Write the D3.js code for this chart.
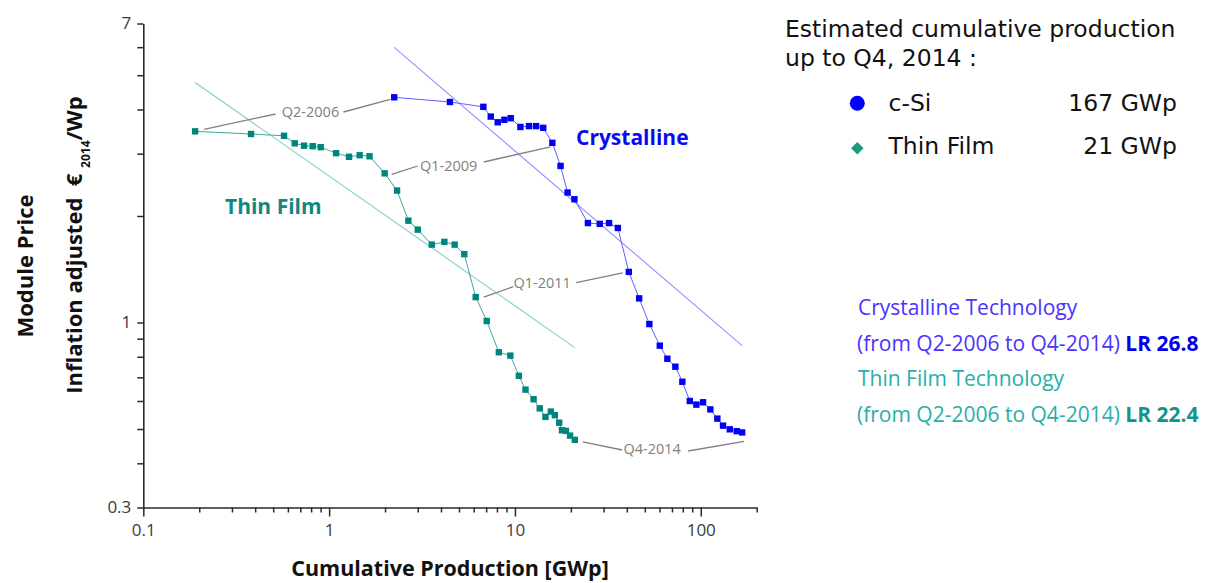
<!DOCTYPE html>
<html>
<head>
<meta charset="utf-8">
<script src="https://cdn.jsdelivr.net/npm/d3@7"></script>
<style>
  html, body { margin: 0; padding: 0; background: #fff; }
  svg { display: block; font-family: "Open Sans", "Noto Sans", sans-serif; }
</style>
</head>
<body>
<svg id="chart" width="1206" height="583"></svg>
<script>
// Quarterly module price vs. cumulative production, Q2-2006 .. Q4-2014
const quarters = [
  "Q2-2006","Q3-2006","Q4-2006",
  "Q1-2007","Q2-2007","Q3-2007","Q4-2007",
  "Q1-2008","Q2-2008","Q3-2008","Q4-2008",
  "Q1-2009","Q2-2009","Q3-2009","Q4-2009",
  "Q1-2010","Q2-2010","Q3-2010","Q4-2010",
  "Q1-2011","Q2-2011","Q3-2011","Q4-2011",
  "Q1-2012","Q2-2012","Q3-2012","Q4-2012",
  "Q1-2013","Q2-2013","Q3-2013","Q4-2013",
  "Q1-2014","Q2-2014","Q3-2014","Q4-2014"
];

// Crystalline silicon: cumulative production [GWp] and price [EUR2014/Wp]
const cSiProduction = [
  2.24, 4.47, 6.76, 7.41, 8.08, 8.77, 9.49,
  10.7, 11.9, 13.0, 14.2, 15.9, 17.6, 19.2, 20.9,
  24.7, 28.6, 32.1, 35.8, 41.0, 46.6, 52.9, 60.2,
  66.1, 73.0, 79.6, 87.3, 94.7, 102.9, 112.6, 122.8,
  131.8, 143.3, 156.2, 167
];
const cSiPrice = [
  4.33, 4.20, 4.07, 3.82, 3.68, 3.74, 3.78,
  3.57, 3.59, 3.59, 3.55, 3.22, 2.77, 2.33, 2.23,
  1.91, 1.90, 1.91, 1.85, 1.39, 1.17, 0.99, 0.86,
  0.79, 0.75, 0.68, 0.60, 0.586, 0.595, 0.568, 0.535,
  0.511, 0.499, 0.493, 0.489
];

// Thin film
const thinFilmProduction = [
  0.190, 0.380, 0.572, 0.653, 0.733, 0.816, 0.901,
  1.09, 1.28, 1.46, 1.65, 1.99, 2.32, 2.67, 3.00,
  3.57, 4.17, 4.74, 5.34, 6.15, 7.05, 8.19, 9.45,
  10.5, 11.4, 12.6, 13.6, 14.6, 15.6, 16.4, 17.3,
  17.9, 18.8, 19.8, 21
];
const thinFilmPrice = [
  3.47, 3.41, 3.37, 3.21, 3.16, 3.15, 3.13,
  3.01, 2.94, 2.97, 2.95, 2.64, 2.36, 1.94, 1.83,
  1.66, 1.69, 1.66, 1.56, 1.18, 1.01, 0.824, 0.806,
  0.707, 0.646, 0.607, 0.572, 0.541, 0.560, 0.547, 0.521,
  0.496, 0.494, 0.479, 0.466
];

// Learning-curve fits (end points)
const cSiFitProduction = [2.24, 167];
const cSiFitPrice = [5.99, 0.86];
const thinFilmFitProduction = [0.19, 21];
const thinFilmFitPrice = [4.77, 0.849];

// Axes
const xDomain = [0.1, 200];
const yDomain = [0.3, 7];
const xMajorTicks = [0.1, 1, 10, 100];
const xMinorTicks = [0.2,0.3,0.4,0.5,0.6,0.7,0.8,0.9, 2,3,4,5,6,7,8,9, 20,30,40,50,60,70,80,90, 200];
const yLabelTicks = [0.3, 1, 7];
const yMinorTicks = [0.4,0.5,0.6,0.7,0.8,0.9, 2,3,4,5,6];

// Quarters called out on the chart
const calloutQuarters = ["Q2-2006", "Q1-2009", "Q1-2011", "Q4-2014"];

// Legend / notes
const legendTitle = ["Estimated cumulative production", "up to Q4, 2014 :"];
const legendNames = ["c-Si", "Thin Film"];
const legendTotals = ["167 GWp", "21 GWp"];
const learningRates = ["LR 26.8", "LR 22.4"];

const BLUE = "#0000f5", BLUE_LINE = "#5d5dff", BLUE_FIT = "#9090ff";
const TEAL = "#00857d", TEAL_LINE = "#3fa79f", TEAL_FIT = "#84cfc8";
const GRAY = "#808080";

const svg = d3.select("#chart");
const x = d3.scaleLog().domain(xDomain).range([143.3, 756.7]);
const y = d3.scaleLog().domain(yDomain).range([507.5, 23.5]);
const fmt = d => String(d);

// ---- axes ----
const axisColor = "#2a2a2a";
const xAxisG = svg.append("g").attr("transform", `translate(0,${y.range()[0]})`);
xAxisG.call(d3.axisBottom(x).tickValues(xMinorTicks).tickSize(5).tickSizeOuter(0).tickFormat(""));
const xMajG = svg.append("g").attr("transform", `translate(0,${y.range()[0]})`);
xMajG.call(d3.axisBottom(x).tickValues(xMajorTicks).tickSize(9).tickSizeOuter(0).tickPadding(7).tickFormat(fmt));
xMajG.select(".domain").remove();

const yAxisG = svg.append("g").attr("transform", `translate(${x.range()[0]},0)`);
yAxisG.call(d3.axisLeft(y).tickValues(yMinorTicks).tickSize(6).tickSizeOuter(0).tickFormat(""));
const yMajG = svg.append("g").attr("transform", `translate(${x.range()[0]},0)`);
yMajG.call(d3.axisLeft(y).tickValues(yLabelTicks).tickSize(6).tickSizeOuter(0).tickPadding(6).tickFormat(fmt));
yMajG.select(".domain").remove();

svg.selectAll(".domain").attr("stroke", axisColor).attr("stroke-width", 1.6);
svg.selectAll(".tick line").attr("stroke", axisColor).attr("stroke-width", 1.5);
svg.selectAll(".tick text")
  .attr("fill", "#3a3a3a")
  .style("font-family", "'Open Sans', sans-serif")
  .style("font-size", "17px");

// ---- fit lines ----
function fitLine(xs, ys, color) {
  svg.append("line")
    .attr("x1", x(xs[0])).attr("y1", y(ys[0]))
    .attr("x2", x(xs[1])).attr("y2", y(ys[1]))
    .attr("stroke", color).attr("stroke-width", 1.1);
}
fitLine(cSiFitProduction, cSiFitPrice, BLUE_FIT);
fitLine(thinFilmFitProduction, thinFilmFitPrice, TEAL_FIT);

// ---- series ----
function series(xs, ys, lineColor, markColor) {
  const pts = xs.map((v, i) => [v, ys[i]]);
  svg.append("path")
    .datum(pts)
    .attr("fill", "none")
    .attr("stroke", lineColor)
    .attr("stroke-width", 1)
    .attr("d", d3.line().x(d => x(d[0])).y(d => y(d[1])));
  svg.append("g").selectAll("rect")
    .data(pts).join("rect")
    .attr("x", d => x(d[0]) - 3.2)
    .attr("y", d => y(d[1]) - 3.2)
    .attr("width", 6.4).attr("height", 6.4)
    .attr("fill", markColor);
}
series(thinFilmProduction, thinFilmPrice, TEAL_LINE, TEAL);
series(cSiProduction, cSiPrice, BLUE_LINE, BLUE);

// ---- quarter callouts ----
// label centre and connector offsets for each callout
const calloutLayout = [
  { cx: 310.5, cy: 112, l: [-35, 2], r: [33, 0], tOff: [9, -2], bOff: [-4, 2] },
  { cx: 448.7, cy: 166, l: [-31, 0], r: [35, -4], tOff: [7, 1], bOff: [-2, 4] },
  { cx: 542.2, cy: 282.7, l: [-29, 4], r: [34, 0], tOff: [8, 0], bOff: [-6, 1] },
  { cx: 652.2, cy: 449, l: [-30, 1], r: [36, 2], tOff: [8, 2], bOff: [2, 9] }
];
calloutQuarters.forEach((q, k) => {
  const i = quarters.indexOf(q);
  const L = calloutLayout[k];
  const tx = x(thinFilmProduction[i]) + L.tOff[0], ty = y(thinFilmPrice[i]) + L.tOff[1];
  const bx = x(cSiProduction[i]) + L.bOff[0], by = y(cSiPrice[i]) + L.bOff[1];
  svg.append("line")
    .attr("x1", tx).attr("y1", ty)
    .attr("x2", L.cx + L.l[0]).attr("y2", L.cy + L.l[1])
    .attr("stroke", GRAY).attr("stroke-width", 1.3);
  svg.append("line")
    .attr("x1", L.cx + L.r[0]).attr("y1", L.cy + L.r[1])
    .attr("x2", bx).attr("y2", by)
    .attr("stroke", GRAY).attr("stroke-width", 1.3);
  svg.append("text")
    .attr("x", L.cx).attr("y", L.cy + 5)
    .attr("text-anchor", "middle")
    .attr("fill", GRAY)
    .style("font-size", "14.5px")
    .text(q);
});

// ---- series labels in plot ----
svg.append("text").attr("x", 576).attr("y", 145)
  .attr("fill", "#0a0af0").style("font-weight", "bold").style("font-size", "21px")
  .text("Crystalline");
svg.append("text").attr("x", 225).attr("y", 214)
  .attr("fill", "#0e8880").style("font-weight", "bold").style("font-size", "21px")
  .text("Thin Film");

// ---- axis titles ----
svg.append("text")
  .attr("x", 450).attr("y", 576)
  .attr("text-anchor", "middle")
  .attr("fill", "#111")
  .style("font-weight", "bold").style("font-size", "21.5px")
  .text("Cumulative Production [GWp]");

svg.append("text")
  .attr("transform", "translate(33,266) rotate(-90)")
  .attr("text-anchor", "middle")
  .attr("fill", "#111")
  .style("font-weight", "bold").style("font-size", "22px")
  .text("Module Price");

const yt = svg.append("text")
  .attr("transform", "translate(82,245) rotate(-90)")
  .attr("text-anchor", "middle")
  .attr("fill", "#111")
  .style("font-weight", "bold").style("font-size", "22px")
  .attr("xml:space", "preserve");
yt.append("tspan").text("Inflation adjusted  € ");
yt.append("tspan").attr("dy", 8).style("font-size", "12px").text("2014");
yt.append("tspan").attr("dy", -8).text("/Wp");

// ---- legend ----
const legendFamily = "'DejaVu Sans', 'Open Sans', sans-serif";
const legendFont = "23.5px";
legendTitle.forEach((t, i) => {
  svg.append("text").attr("x", 785).attr("y", 37 + i * 28.5)
    .attr("fill", "#111")
    .style("font-family", legendFamily).style("font-size", legendFont)
    .text(t);
});
svg.append("circle").attr("cx", 857.3).attr("cy", 103.3).attr("r", 7.5).attr("fill", "#0000ff");
svg.append("path")
  .attr("d", d3.symbol().type(d3.symbolDiamond2).size(100)())
  .attr("transform", "translate(857.3,148.3)")
  .attr("fill", "#1a9a80");
legendNames.forEach((n, i) => {
  svg.append("text").attr("x", 888.5).attr("y", 111 + i * 43)
    .attr("fill", "#111")
    .style("font-family", legendFamily).style("font-size", legendFont)
    .text(n);
  svg.append("text").attr("x", 1177).attr("y", 111 + i * 43)
    .attr("text-anchor", "end")
    .attr("fill", "#111")
    .style("font-family", legendFamily).style("font-size", legendFont)
    .text(legendTotals[i]);
});

// ---- learning-rate notes ----
const notes = [
  { head: "Crystalline Technology", color: "#4a33ff", lrColor: "#0000ee", lr: learningRates[0] },
  { head: "Thin Film Technology", color: "#2aaea9", lrColor: "#10958d", lr: learningRates[1] }
];
notes.forEach((n, i) => {
  const base = 315 + i * 71;
  svg.append("text").attr("x", 858).attr("y", base)
    .attr("fill", n.color).style("font-size", "21px").text(n.head);
  const t = svg.append("text").attr("x", 857).attr("y", base + 35.5)
    .attr("fill", n.color).style("font-size", "21px");
  t.append("tspan").text("(from Q2-2006 to Q4-2014) ");
  t.append("tspan").attr("fill", n.lrColor).style("font-weight", "bold").text(n.lr);
});
</script>
</body>
</html>
